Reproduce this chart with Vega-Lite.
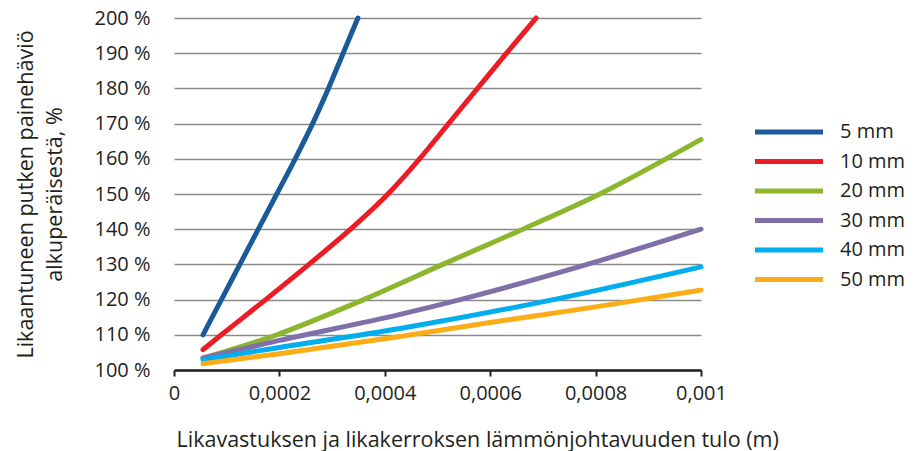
{
  "$schema": "https://vega.github.io/schema/vega-lite/v6.json",
  "width": 527,
  "height": 352,
  "autosize": {"type": "none"},
  "padding": {"left": 174, "top": 18, "right": 218, "bottom": 81},
  "background": "white",
  "data": {
    "values": [
      {"s": "5 mm", "x": 0.000055, "y": 110},
      {"s": "5 mm", "x": 0.00009, "y": 120},
      {"s": "5 mm", "x": 0.000125, "y": 130},
      {"s": "5 mm", "x": 0.00016, "y": 140},
      {"s": "5 mm", "x": 0.000195, "y": 150},
      {"s": "5 mm", "x": 0.00023, "y": 160},
      {"s": "5 mm", "x": 0.000263, "y": 170},
      {"s": "5 mm", "x": 0.000293, "y": 180},
      {"s": "5 mm", "x": 0.000321, "y": 190},
      {"s": "5 mm", "x": 0.000349, "y": 200},
      {"s": "10 mm", "x": 0.000055, "y": 105.8},
      {"s": "10 mm", "x": 0.00009, "y": 110},
      {"s": "10 mm", "x": 0.000174, "y": 120},
      {"s": "10 mm", "x": 0.000256, "y": 130},
      {"s": "10 mm", "x": 0.000335, "y": 140},
      {"s": "10 mm", "x": 0.000406, "y": 150},
      {"s": "10 mm", "x": 0.000466, "y": 160},
      {"s": "10 mm", "x": 0.000521, "y": 170},
      {"s": "10 mm", "x": 0.000576, "y": 180},
      {"s": "10 mm", "x": 0.000631, "y": 190},
      {"s": "10 mm", "x": 0.000687, "y": 200},
      {"s": "20 mm", "x": 0.000055, "y": 103.4},
      {"s": "20 mm", "x": 0.000195, "y": 110},
      {"s": "20 mm", "x": 0.00036, "y": 120},
      {"s": "20 mm", "x": 0.00051, "y": 130},
      {"s": "20 mm", "x": 0.000662, "y": 140},
      {"s": "20 mm", "x": 0.000808, "y": 150},
      {"s": "20 mm", "x": 0.001, "y": 165.5},
      {"s": "30 mm", "x": 0.000055, "y": 103.4},
      {"s": "30 mm", "x": 0.0002, "y": 108.4},
      {"s": "30 mm", "x": 0.000429, "y": 115.8},
      {"s": "30 mm", "x": 0.000543, "y": 120},
      {"s": "30 mm", "x": 0.000784, "y": 130},
      {"s": "30 mm", "x": 0.001, "y": 140},
      {"s": "40 mm", "x": 0.000055, "y": 102.9},
      {"s": "40 mm", "x": 0.0002, "y": 106.4},
      {"s": "40 mm", "x": 0.000429, "y": 111.8},
      {"s": "40 mm", "x": 0.00072, "y": 120},
      {"s": "40 mm", "x": 0.001, "y": 129.3},
      {"s": "50 mm", "x": 0.000055, "y": 101.8},
      {"s": "50 mm", "x": 0.0002, "y": 104.6},
      {"s": "50 mm", "x": 0.000429, "y": 109.5},
      {"s": "50 mm", "x": 0.0006, "y": 113.5},
      {"s": "50 mm", "x": 0.000803, "y": 118},
      {"s": "50 mm", "x": 0.001, "y": 122.7}
    ]
  },
  "mark": {"type": "line", "strokeWidth": 5, "strokeCap": "round", "strokeJoin": "round", "interpolate": "monotone"},
  "encoding": {
    "x": {
      "field": "x",
      "type": "quantitative",
      "scale": {"domain": [0, 0.001], "nice": false, "zero": false},
      "axis": {
        "values": [0, 0.0002, 0.0004, 0.0006, 0.0008, 0.001],
        "labelExpr": "replace(format(datum.value, '~g'), '.', ',')",
        "grid": false,
        "domainColor": "#231f20",
        "domainWidth": 2.5,
        "tickColor": "#231f20",
        "tickWidth": 2,
        "tickSize": 6,
        "labelPadding": 7,
        "labelFontSize": 20,
        "labelColor": "#231f20",
        "labelFlush": false,
        "title": "Likavastuksen ja likakerroksen lämmönjohtavuuden tulo (m)",
        "titleFontSize": 21.5,
        "titleFontWeight": "normal",
        "titleColor": "#231f20",
        "titleAnchor": "start",
        "titleAlign": "left",
        "titleBaseline": "alphabetic",
        "titleX": 2,
        "titleY": 76
      }
    },
    "y": {
      "field": "y",
      "type": "quantitative",
      "scale": {"domain": [100, 200], "nice": false, "zero": false},
      "axis": {
        "values": [100, 110, 120, 130, 140, 150, 160, 170, 180, 190, 200],
        "labelExpr": "datum.value + ' %'",
        "domain": false,
        "ticks": false,
        "tickSize": 0,
        "labelPadding": 24,
        "labelFontSize": 20,
        "labelColor": "#231f20",
        "gridColor": "#8a8a8a",
        "gridWidth": 1.5,
        "title": ["Likaantuneen putken painehäviö", "alkuperäisestä, %"],
        "titleFontSize": 21.5,
        "titleFontWeight": "normal",
        "titleColor": "#231f20",
        "titleLineHeight": 29,
        "titlePadding": 27
      }
    },
    "color": {
      "field": "s",
      "type": "nominal",
      "sort": ["5 mm", "10 mm", "20 mm", "30 mm", "40 mm", "50 mm"],
      "scale": {
        "domain": ["5 mm", "10 mm", "20 mm", "30 mm", "40 mm", "50 mm"],
        "range": ["#1a5a99", "#ec1c24", "#8db52e", "#8070aa", "#00adef", "#fbad18"]
      },
      "legend": {
        "title": null,
        "orient": "none",
        "legendX": 601,
        "legendY": 100,
        "symbolType": "M-3,0H3",
        "symbolStrokeWidth": 5,
        "symbolSize": 514,
        "labelFontSize": 20,
        "labelColor": "#231f20",
        "labelOffset": 37,
        "rowPadding": 5.5
      }
    }
  },
  "config": {
    "font": "Open Sans",
    "view": {"stroke": null}
  }
}
